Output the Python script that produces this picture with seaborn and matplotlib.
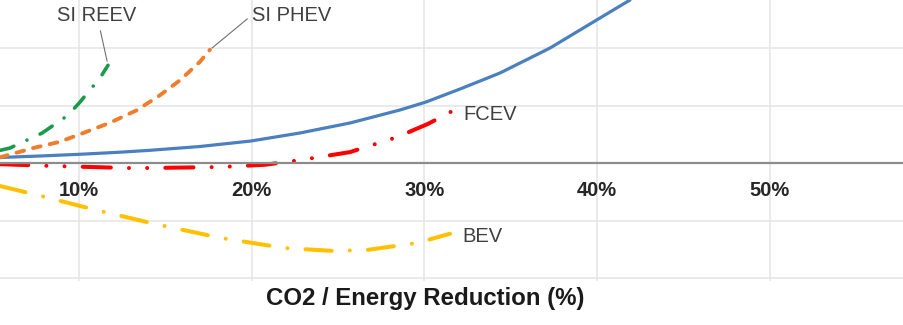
import numpy as np
import pandas as pd
import matplotlib
matplotlib.use("Agg")
import matplotlib.pyplot as plt
import seaborn as sns

# values: x = CO2 / energy reduction (%), y = relative cost (grid units)
base_x = [5.43, 7.74, 10.0, 12.37, 14.11, 17.0, 19.96, 22.79, 25.69, 28.58, 30.09, 32.06, 34.37, 37.27, 40.16, 41.9]
base_y = [0.096, 0.122, 0.151, 0.188, 0.221, 0.287, 0.383, 0.522, 0.696, 0.922, 1.061, 1.287, 1.565, 2.0, 2.522, 2.835]

reev_x = [5.43, 6.0, 7.86, 9.36, 10.0, 11.22, 11.68]
reev_y = [0.22, 0.26, 0.52, 0.83, 1.04, 1.48, 1.70]

phev_x = [5.43, 7.34, 8.90, 10.23, 11.79, 13.36, 14.69, 15.85, 17.0, 17.58]
phev_y = [0.10, 0.26, 0.37, 0.52, 0.70, 0.92, 1.18, 1.44, 1.76, 1.97]

fcev_x = [5.43, 8.32, 13.24, 18.16, 20.77, 22.79, 25.69, 28.41, 30.2, 31.59]
fcev_y = [-0.02, -0.05, -0.09, -0.07, -0.03, 0.05, 0.19, 0.45, 0.68, 0.90]

bev_x = [5.43, 8.03, 10.75, 14.4, 18.16, 21.92, 24.82, 26.73, 29.57, 31.48]
bev_y = [-0.40, -0.59, -0.80, -1.06, -1.30, -1.48, -1.53, -1.51, -1.39, -1.23]

x_ticks = [10, 20, 30, 40, 50]
x_tick_labels = ["10%", "20%", "30%", "40%", "50%"]
y_grid = [-2, -1, 0, 1, 2]

sns.set_style("white")
plt.rcParams['font.family'] = ['Liberation Sans', 'DejaVu Sans']
plt.rcParams['lines.dash_capstyle'] = 'round'

fig = plt.figure(figsize=(9.04, 3.25), dpi=100)
ax = fig.add_axes([0, 1 - 281 / 325, 1, 281 / 325])

# spine first, it resets the ticks
for s in ["top", "right", "left"]:
    ax.spines[s].set_visible(False)
ax.spines["bottom"].set_position(("data", 0))
ax.spines["bottom"].set_color("#8c8c8c")
ax.spines["bottom"].set_linewidth(1.6)

# curves
sns.lineplot(x=base_x, y=base_y, ax=ax, color="#4a80c0", lw=2.3, sort=False, estimator=None)
sns.lineplot(x=reev_x, y=reev_y, ax=ax, color="#1c9a4c", lw=2.6, sort=False, estimator=None,
             linestyle=(0, (4, 4, 0.01, 4)))
sns.lineplot(x=phev_x, y=phev_y, ax=ax, color="#f07c2c", lw=2.8, sort=False, estimator=None,
             linestyle=(0, (2.0, 2.4)))
sns.lineplot(x=fcev_x, y=fcev_y, ax=ax, color="#ff0000", lw=2.9, sort=False, estimator=None,
             linestyle=(0, (7, 4.5, 0.01, 4.5, 0.01, 4.5)))
sns.lineplot(x=bev_x, y=bev_y, ax=ax, color="#ffc000", lw=2.9, sort=False, estimator=None,
             linestyle=(0, (6.5, 4.5, 0.01, 4.5)))

# labels
lab = dict(fontsize=14.5, color="#404040")
ax.annotate("SI REEV", xy=(reev_x[-1], reev_y[-1]), xytext=(11.04, 2.57), ha="center", va="center",
            arrowprops=dict(arrowstyle="-", color="#707070", lw=0.8, shrinkA=2, shrinkB=3), **lab)
ax.annotate("SI PHEV", xy=(phev_x[-1], phev_y[-1]), xytext=(20.0, 2.57), ha="left", va="center",
            arrowprops=dict(arrowstyle="-", color="#707070", lw=0.8, shrinkA=1, shrinkB=2,
                            relpos=(0, 0.5)), **lab)
ax.annotate("FCEV", xy=(fcev_x[-1], fcev_y[-1]), xytext=(8, -2), textcoords="offset points",
            ha="left", va="center", **lab)
ax.annotate("BEV", xy=(bev_x[-1], bev_y[-1]), xytext=(9, -2), textcoords="offset points",
            ha="left", va="center", **lab)

# axes styling
ax.set_xlim(5.427, 57.76)
ax.set_ylim(-2.052, 2.835)
ax.set_xticks(x_ticks)
ax.set_yticks(y_grid)
ax.set_yticklabels([])
ax.tick_params(axis="x", direction="out", length=4.5, width=1.2, color="#8c8c8c", pad=8.5,
               labelsize=14.5, labelcolor="#262626")
ax.tick_params(axis="y", length=0)
ax.set_xticklabels(x_tick_labels, fontweight="bold")
ax.grid(True, color="#e4e4e4", lw=1.1)
ax.set_axisbelow(True)

ax.set_xlabel("CO2 / Energy Reduction (%)", fontsize=17.3, fontweight="bold", color="#1a1a1a")
ax.xaxis.set_label_coords(425 / 904, -0.022)

fig.savefig("out.png", dpi=100)
